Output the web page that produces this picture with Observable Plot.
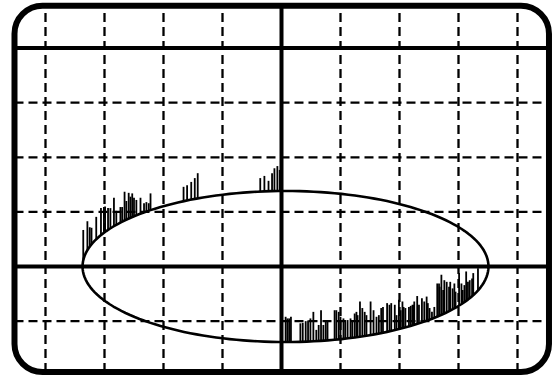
<!DOCTYPE html>
<html><head><meta charset="utf-8">
<script src="https://cdn.jsdelivr.net/npm/d3@7"></script>
<script src="https://cdn.jsdelivr.net/npm/@observablehq/plot@0.6"></script>
<style>html,body{margin:0;padding:0;background:#fff;overflow:hidden}</style>
</head><body><div id="chart"></div>
<script>
// Grid (in screen divisions)
const xDashed = [-4, -3, -2, -1, 1, 2, 3, 4];
const xSolid = [0];
const yDashed = [-1, 1, 2, 3];
const ySolid = [0, 4];
// Screen bezel extent (divisions)
const bezelX = [-4.517, 4.542];
const bezelY = [-1.941, 4.767];
// Ellipse trace: centre and radii (divisions)
const ellipseCenter = [0.068, 0];
const ellipseRadii = [3.44, 1.383];
// Noise spikes riding on the upper trace (x, top)
const upperX = [-3.36,-3.29,-3.25,-3.22,-3.14,-3.06,-3.01,-2.99,-2.94,-2.90,-2.84,-2.80,-2.73,-2.70,-2.66,-2.63,-2.59,-2.56,-2.53,-2.50,-2.46,-2.39,-2.33,-2.29,-2.25,-2.22,-1.66,-1.60,-1.53,-1.47,-1.42,-0.36,-0.29,-0.22,-0.16,-0.12,-0.07,-0.03];
const upperTop = [0.66,0.82,0.71,0.70,0.90,1.06,1.08,1.09,1.06,1.06,1.25,1.01,1.08,1.08,1.36,1.19,1.34,1.27,1.33,1.25,1.21,1.25,1.15,1.17,1.15,1.33,1.45,1.48,1.54,1.61,1.70,1.61,1.65,1.56,1.70,1.79,1.83,1.76];
// Noise spikes rising from the lower trace (x, top)
const lowerX = [0.07,0.10,0.13,0.16,0.32,0.36,0.41,0.45,0.49,0.54,0.59,0.63,0.67,0.71,0.75,0.78,0.90,0.93,0.97,1.00,1.05,1.08,1.12,1.17,1.20,1.24,1.27,1.29,1.33,1.37,1.41,1.44,1.51,1.56,1.61,1.65,1.69,1.72,1.79,1.83,1.86,1.92,1.95,1.99,2.02,2.05,2.07,2.10,2.16,2.19,2.22,2.24,2.25,2.30,2.33,2.38,2.42,2.46,2.48,2.51,2.55,2.59,2.64,2.67,2.68,2.71,2.74,2.76,2.80,2.84,2.86,2.90,2.93,2.95,3.01,3.05,3.07,3.10,3.13,3.16,3.19,3.23,3.25,3.33];
const lowerTop = [-0.93,-0.96,-0.96,-0.93,-1.05,-1.04,-1.01,-1.00,-0.96,-0.84,-1.17,-1.08,-0.81,-1.08,-1.02,-1.02,-0.81,-0.81,-0.84,-0.93,-0.96,-0.99,-0.99,-0.96,-0.99,-0.87,-0.84,-0.90,-0.65,-0.77,-0.84,-0.90,-0.65,-0.81,-0.93,-0.90,-0.77,-0.75,-0.68,-0.71,-0.68,-0.71,-0.90,-0.62,-0.81,-0.65,-0.75,-0.77,-0.75,-0.73,-0.71,-0.71,-0.65,-0.55,-0.71,-0.59,-0.65,-0.56,-0.68,-0.77,-0.84,-0.75,-0.32,-0.32,-0.38,-0.16,-0.44,-0.26,-0.29,-0.38,-0.29,-0.41,-0.32,-0.47,-0.13,-0.32,-0.44,-0.35,-0.10,-0.29,-0.26,-0.23,-0.13,-0.04];

const W = 556, H = 380;
const [cx, cy] = ellipseCenter, [rx, ry] = ellipseRadii;
const halfH = x => ry * Math.sqrt(Math.max(0, 1 - ((x - cx) / rx) ** 2));
const ellipsePts = d3.range(0, 361, 2).map(a => {
  const t = a * Math.PI / 180;
  return {x: cx + rx * Math.cos(t), y: cy + ry * Math.sin(t)};
});
const upper = upperX.map((x, i) => ({x, y1: cy + halfH(x), y2: upperTop[i]}));
const lower = lowerX.map((x, i) => ({x, y1: cy - halfH(x), y2: lowerTop[i]}));

const chart = Plot.plot({
  width: W, height: H,
  marginTop: 0, marginRight: 0, marginBottom: 0, marginLeft: 0,
  x: {domain: [-281 / 59, 275 / 59], axis: null},
  y: {domain: [-114 / 54.6, 266 / 54.6], axis: null},
  style: {background: "#fff"},
  marks: [
    Plot.ruleX(xDashed, {x: d => d, y1: bezelY[0], y2: bezelY[1], stroke: "#000", strokeWidth: 2.3, strokeDasharray: "9,5"}),
    Plot.ruleY(yDashed, {y: d => d, x1: bezelX[0], x2: bezelX[1], stroke: "#000", strokeWidth: 2.3, strokeDasharray: "9,5"}),
    Plot.ruleX(xSolid, {x: d => d, y1: bezelY[0], y2: bezelY[1], stroke: "#000", strokeWidth: 4}),
    Plot.ruleY(ySolid, {y: d => d, x1: bezelX[0], x2: bezelX[1], stroke: "#000", strokeWidth: 4}),
    Plot.line(ellipsePts, {x: "x", y: "y", stroke: "#000", strokeWidth: 2.6}),
    Plot.ruleX(upper, {x: "x", y1: "y1", y2: "y2", stroke: "#000", strokeWidth: 1.8}),
    Plot.ruleX(lower, {x: "x", y1: "y1", y2: "y2", stroke: "#000", strokeWidth: 1.8}),
    Plot.rect([0], {x1: bezelX[0], x2: bezelX[1], y1: bezelY[0], y2: bezelY[1], fill: "none", stroke: "#000", strokeWidth: 6, rx: 28})
  ]
});
document.getElementById("chart").appendChild(chart);
</script>
</body></html>
